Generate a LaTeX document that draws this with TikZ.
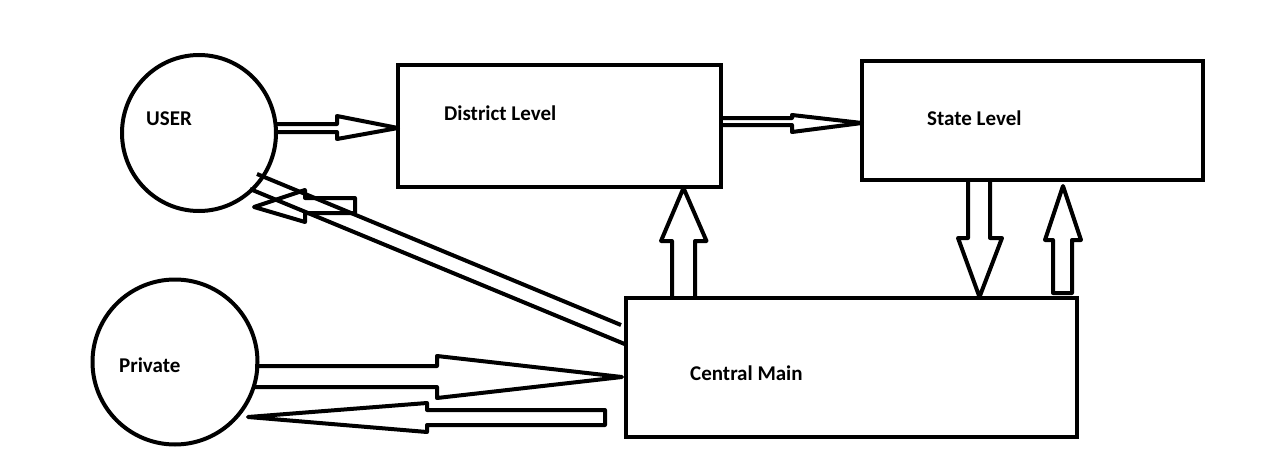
\documentclass[tikz,border=0pt]{standalone}
\usepackage{fontspec}
\setmainfont{Carlito}
\usetikzlibrary{shapes.geometric}
\begin{document}
\begin{tikzpicture}[x=1pt,y=-1pt,
  outl/.style={draw=black,line width=4pt},
  hollow/.style={draw=black,line width=4pt,line join=round},
  lbl/.style={anchor=west,font=\fontsize{21}{24}\selectfont\bfseries,inner sep=0pt}]
\useasboundingbox[fill=white] (0,0) rectangle (1286,460);
% shapes
\node[outl,ellipse,minimum width=154,minimum height=156,inner sep=0pt] (user) at (199,133) {};
\node[outl,circle,minimum width=164,minimum height=165,inner sep=0pt] (private) at (175,362) {};
\node[outl,rectangle,minimum width=323,minimum height=122,inner sep=0pt] (district) at (559.5,126) {};
\node[outl,rectangle,minimum width=341,minimum height=119,inner sep=0pt] (state) at (1032.5,120.5) {};
\node[outl,rectangle,minimum width=451,minimum height=139,inner sep=0pt] (central) at (851.5,367.5) {};
% labels
\node[lbl] (userl) at (146,119) {USER};
\node[lbl] (districtl) at (444,113) {District Level};
\node[lbl] (statel) at (927,118) {State Level};
\node[lbl] (privatel) at (119,365) {Private};
\node[lbl] (centrall) at (690,373) {Central Main};
% USER -> District
\draw[hollow] (277,124) -- (337,124) -- (337,116) -- (398,128) -- (337,139) -- (337,132) -- (277,132);
% District -> State
\draw[hollow] (721,118) -- (792,118) -- (792,115) -- (862,123) -- (792,132) -- (792,125) -- (721,125);
% Central -> District (up)
\draw[hollow] (672,298) -- (672,241) -- (661,241) -- (683.5,188) -- (706.5,241) -- (695,241) -- (695,298);
% State -> Central (down)
\draw[hollow] (968,180) -- (968,238) -- (958,238) -- (979.5,297) -- (1002,238) -- (990,238) -- (990,180);
% Central -> State (up)
\draw[hollow] (1053,293) -- (1053,240) -- (1045,240) -- (1063,186) -- (1081,240) -- (1072,240) -- (1072,293) -- cycle;
% Central -> USER diagonal lines
\draw[hollow] (257,174) -- (621,325);
\draw[hollow] (250,189) -- (627,345);
% small left-pointing arrow near USER
\draw[hollow] (355,198) -- (305,198) -- (305,190) -- (254,207) -- (305,222) -- (305,213) -- (355,213) -- cycle;
% Private -> Central
\draw[hollow] (255,366) -- (437,366) -- (437,356) -- (622,377) -- (437,398) -- (437,387) -- (255,387);
% Central -> Private
\draw[hollow] (605,410) -- (427,410) -- (427,403) -- (248,417) -- (427,432) -- (427,425) -- (605,425) -- cycle;
\end{tikzpicture}
\end{document}
